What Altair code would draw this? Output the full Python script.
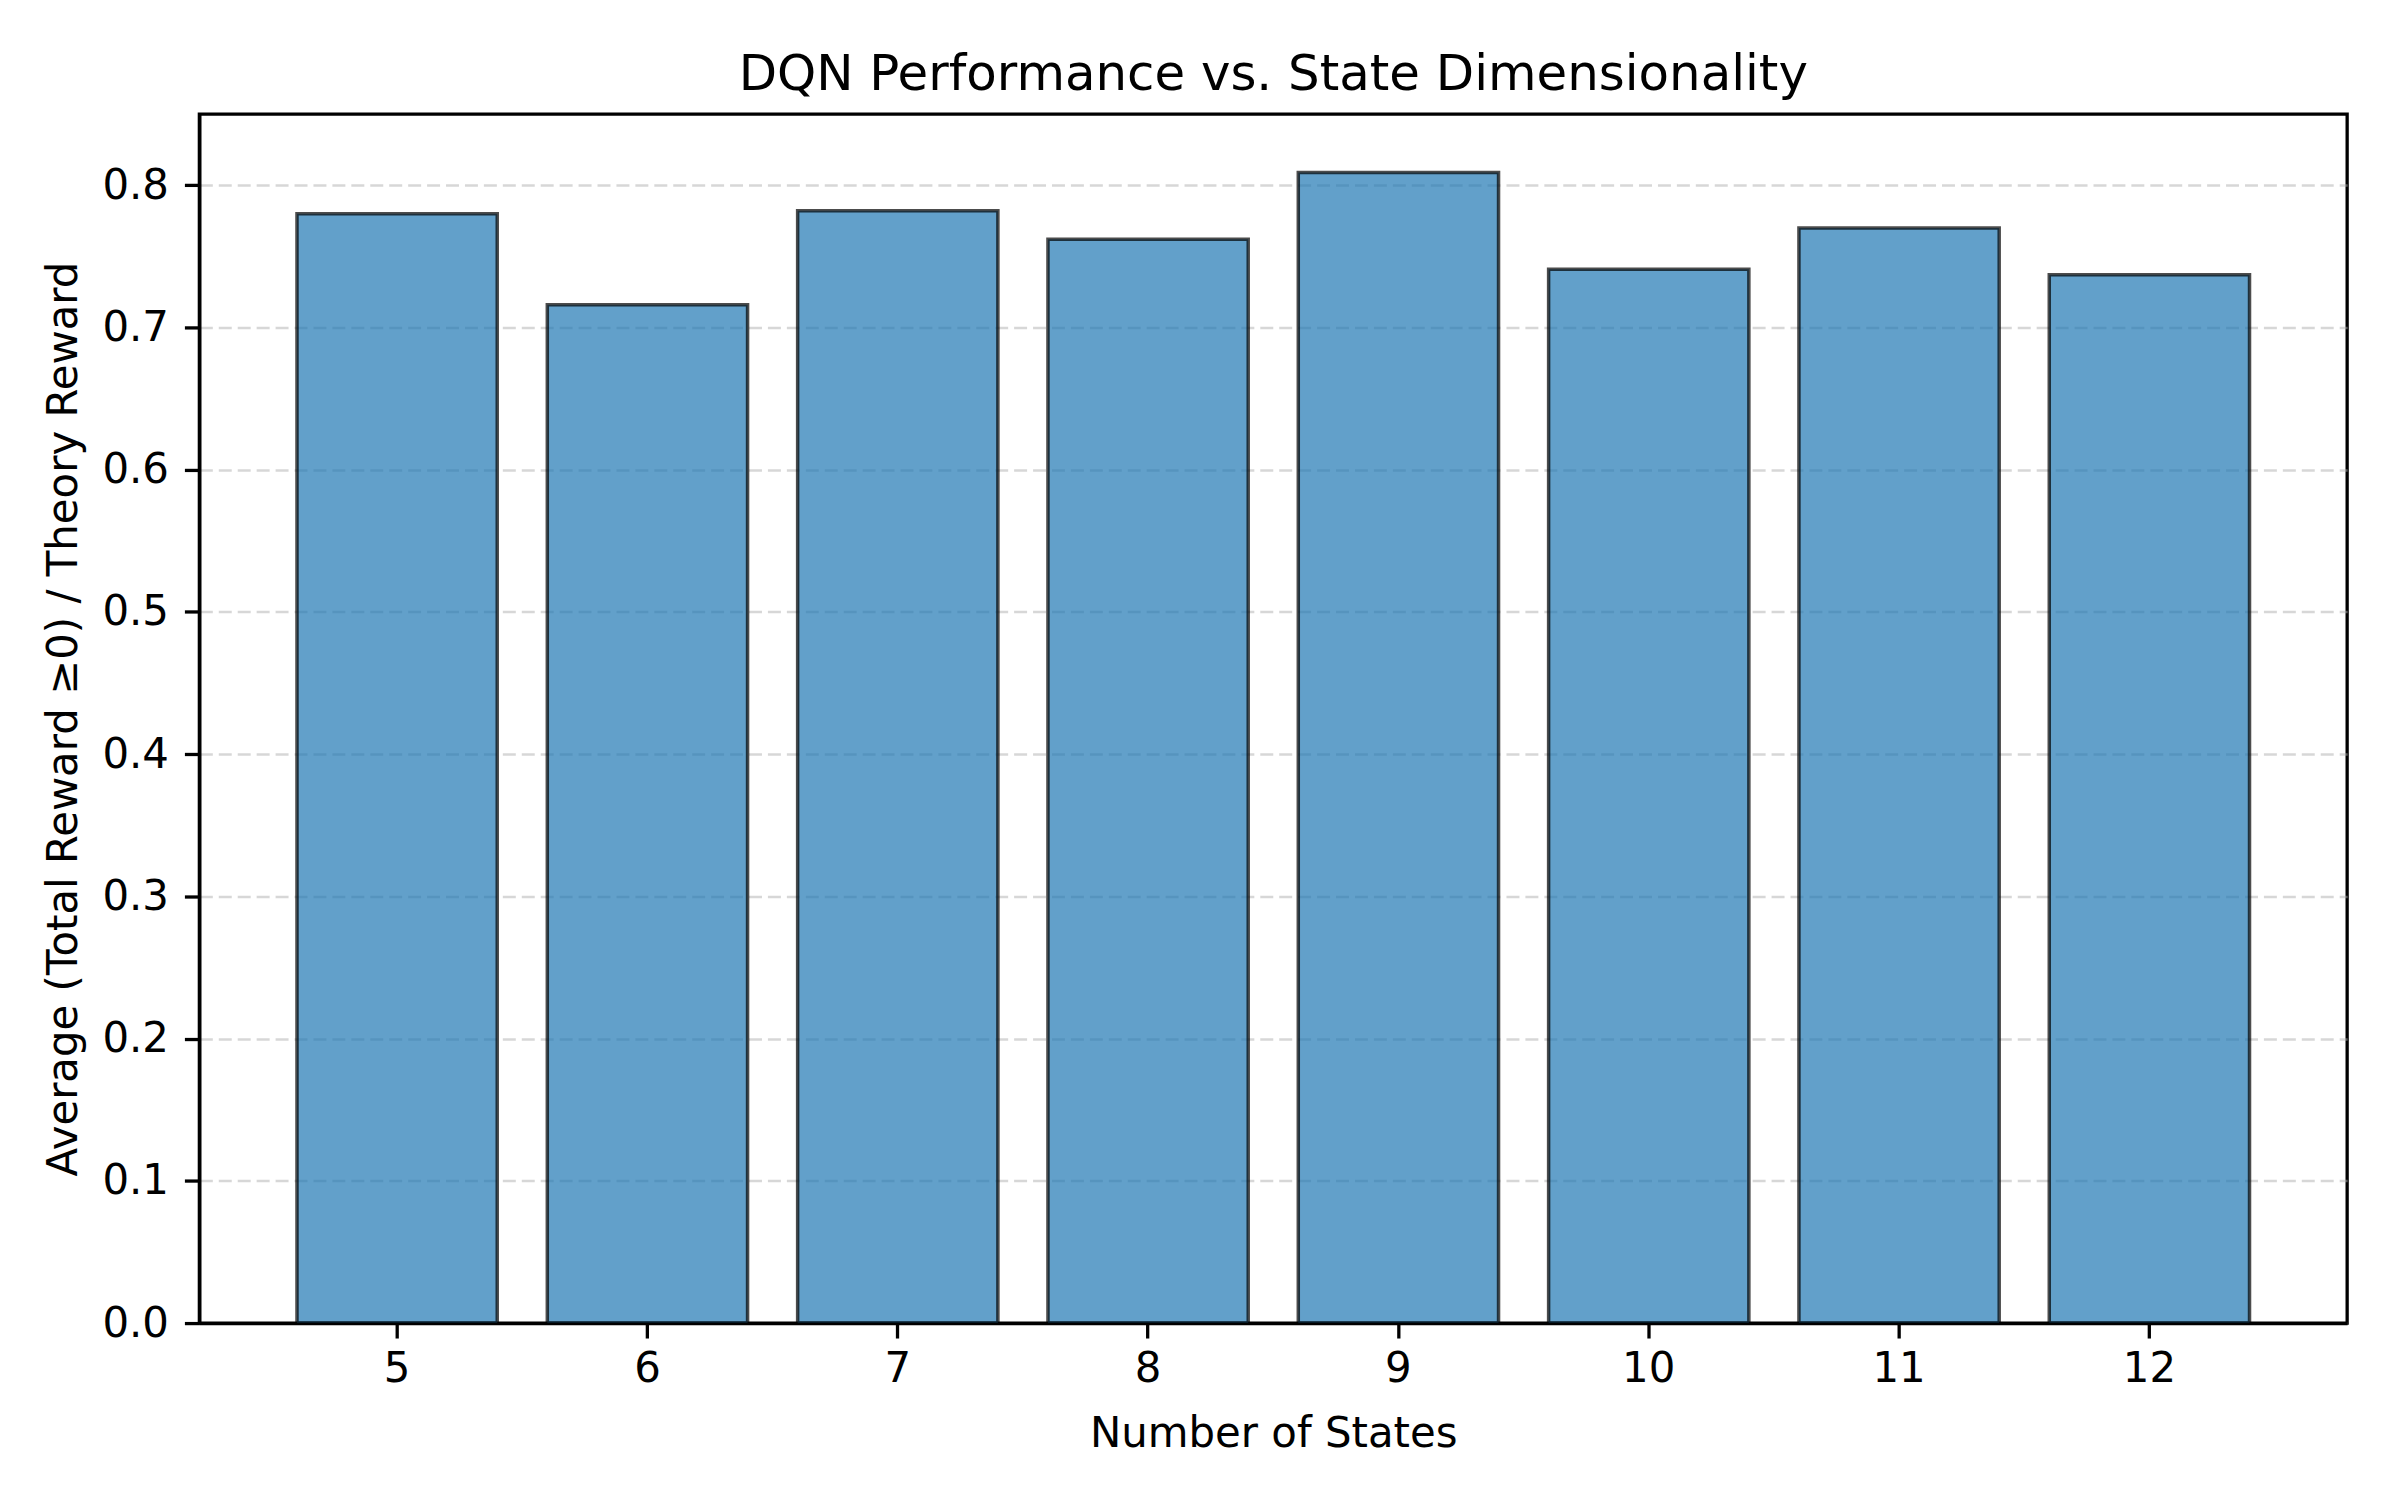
import altair as alt
import pandas as pd

states = [5, 6, 7, 8, 9, 10, 11, 12]
ratio = [0.780, 0.716, 0.782, 0.762, 0.809, 0.741, 0.770, 0.737]
y_ticks = [0.0, 0.1, 0.2, 0.3, 0.4, 0.5, 0.6, 0.7, 0.8]

df = pd.DataFrame({"states": states, "ratio": ratio})

FONT = "DejaVu Sans"
LW = 3.3

chart = (
    alt.Chart(df)
    .mark_bar(
        fill="#1f77b4",
        fillOpacity=0.7,
        stroke="black",
        strokeOpacity=0.7,
        strokeWidth=3.5,
    )
    .encode(
        x=alt.X(
            "states:O",
            title="Number of States",
            scale=alt.Scale(paddingInner=0.2, paddingOuter=0.39),
            axis=alt.Axis(
                labelAngle=0,
                labelFontSize=42,
                titleFontSize=42,
                labelPadding=11,
                titlePadding=24,
                tickSize=15,
                tickWidth=LW,
                tickColor="black",
                domainColor="black",
                domainWidth=LW,
                grid=False,
                labelColor="black",
                titleColor="black",
                titleFontWeight="normal",
                labelFont=FONT,
                titleFont=FONT,
            ),
        ),
        y=alt.Y(
            "ratio:Q",
            title="Average (Total Reward \u22650) / Theory Reward",
            scale=alt.Scale(domain=[0, 0.85], nice=False, zero=True),
            axis=alt.Axis(
                values=y_ticks,
                format=".1f",
                labelFontSize=42,
                titleFontSize=42,
                labelPadding=16,
                titlePadding=16,
                tickSize=15,
                tickWidth=LW,
                tickColor="black",
                domainColor="black",
                domainWidth=LW,
                grid=True,
                gridColor="#b0b0b0",
                gridOpacity=0.5,
                gridDash=[13, 6],
                gridWidth=2.5,
                labelColor="black",
                titleColor="black",
                titleFontWeight="normal",
                labelFont=FONT,
                titleFont=FONT,
            ),
        ),
    )
    .properties(
        width=2155,
        height=1213,
        background="white",
        title=alt.TitleParams(
            "DQN Performance vs. State Dimensionality",
            fontSize=50,
            font=FONT,
            fontWeight="normal",
            color="black",
            offset=14,
        ),
        autosize=alt.AutoSizeParams(type="none"),
        padding={"left": 192, "top": 104, "right": 45, "bottom": 167},
    )
    .configure_view(stroke="black", strokeWidth=LW, strokeOpacity=1)
)

chart.save("out.html", embed_options={"renderer": "svg", "actions": False})
